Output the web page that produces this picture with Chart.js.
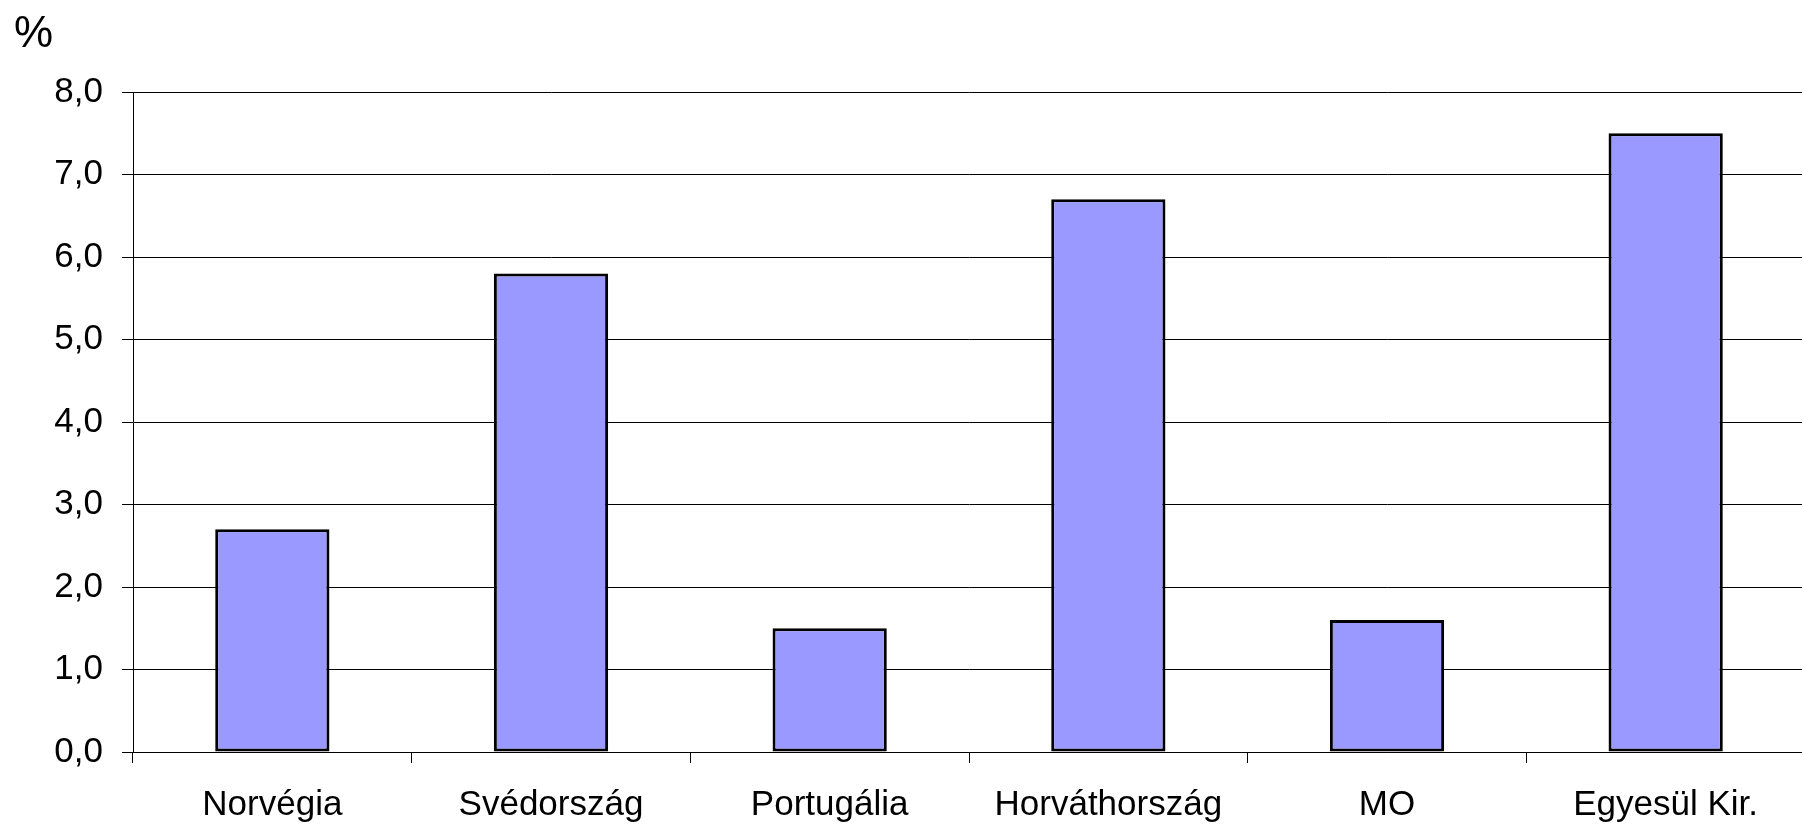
<!DOCTYPE html>
<html>
<head>
<meta charset="utf-8">
<script src="https://cdn.jsdelivr.net/npm/chart.js@4.4.1/dist/chart.umd.min.js"></script>
<style>
html,body{margin:0;padding:0;background:#fff;overflow:hidden;}
#wrap{position:relative;width:1818px;height:825px;}
</style>
</head>
<body>
<div id="wrap"><canvas id="c" width="1818" height="825"></canvas></div>
<script>
const categories = ['Norvégia', 'Svédország', 'Portugália', 'Horváthország', 'MO', 'Egyesül Kir.'];
const values = [2.7, 5.8, 1.5, 6.7, 1.6, 7.5];
const yMin = 0, yMax = 8, yStep = 1;
const unitLabel = '%';

const FONT = '"Liberation Sans", Arial, sans-serif';

const unitPlugin = {
  id: 'unitLabel',
  afterDraw(chart) {
    const ctx = chart.ctx;
    ctx.save();
    ctx.font = '44px ' + FONT;
    ctx.fillStyle = '#000';
    ctx.textBaseline = 'alphabetic';
    ctx.textAlign = 'left';
    ctx.fillText(unitLabel, 14, 47);
    ctx.restore();
  }
};

new Chart(document.getElementById('c'), {
  type: 'bar',
  data: {
    labels: categories,
    datasets: [{
      data: values,
      backgroundColor: '#9999FF',
      borderColor: '#000000',
      borderWidth: 3,
      borderSkipped: false,
      categoryPercentage: 1,
      barPercentage: 0.41
    }]
  },
  options: {
    responsive: false,
    animation: false,
    devicePixelRatio: 1,
    layout: { padding: { top: 92, right: 13, bottom: 0, left: 0 } },
    plugins: { legend: { display: false }, tooltip: { enabled: false }, title: { display: false } },
    scales: {
      x: {
        offset: true,
        grid: { offset: true, drawOnChartArea: false, drawTicks: true, tickLength: 11, color: '#000', lineWidth: 1 },
        border: { display: true, color: '#000', width: 1 },
        ticks: { color: '#000', font: { family: FONT, size: 35 }, padding: 21, maxRotation: 0, autoSkip: false },
        afterFit(scale) { scale.height = 73; }
      },
      y: {
        min: yMin, max: yMax,
        grid: { color: '#000', lineWidth: 1, tickLength: 11, drawTicks: true },
        border: { display: true, color: '#000', width: 1 },
        ticks: {
          stepSize: yStep,
          color: '#000',
          font: { family: FONT, size: 35 },
          padding: 19,
          callback: v => v.toFixed(1).replace('.', ',')
        },
        afterFit(scale) { scale.width = 133; }
      }
    }
  },
  plugins: [unitPlugin]
});
</script>
</body>
</html>
